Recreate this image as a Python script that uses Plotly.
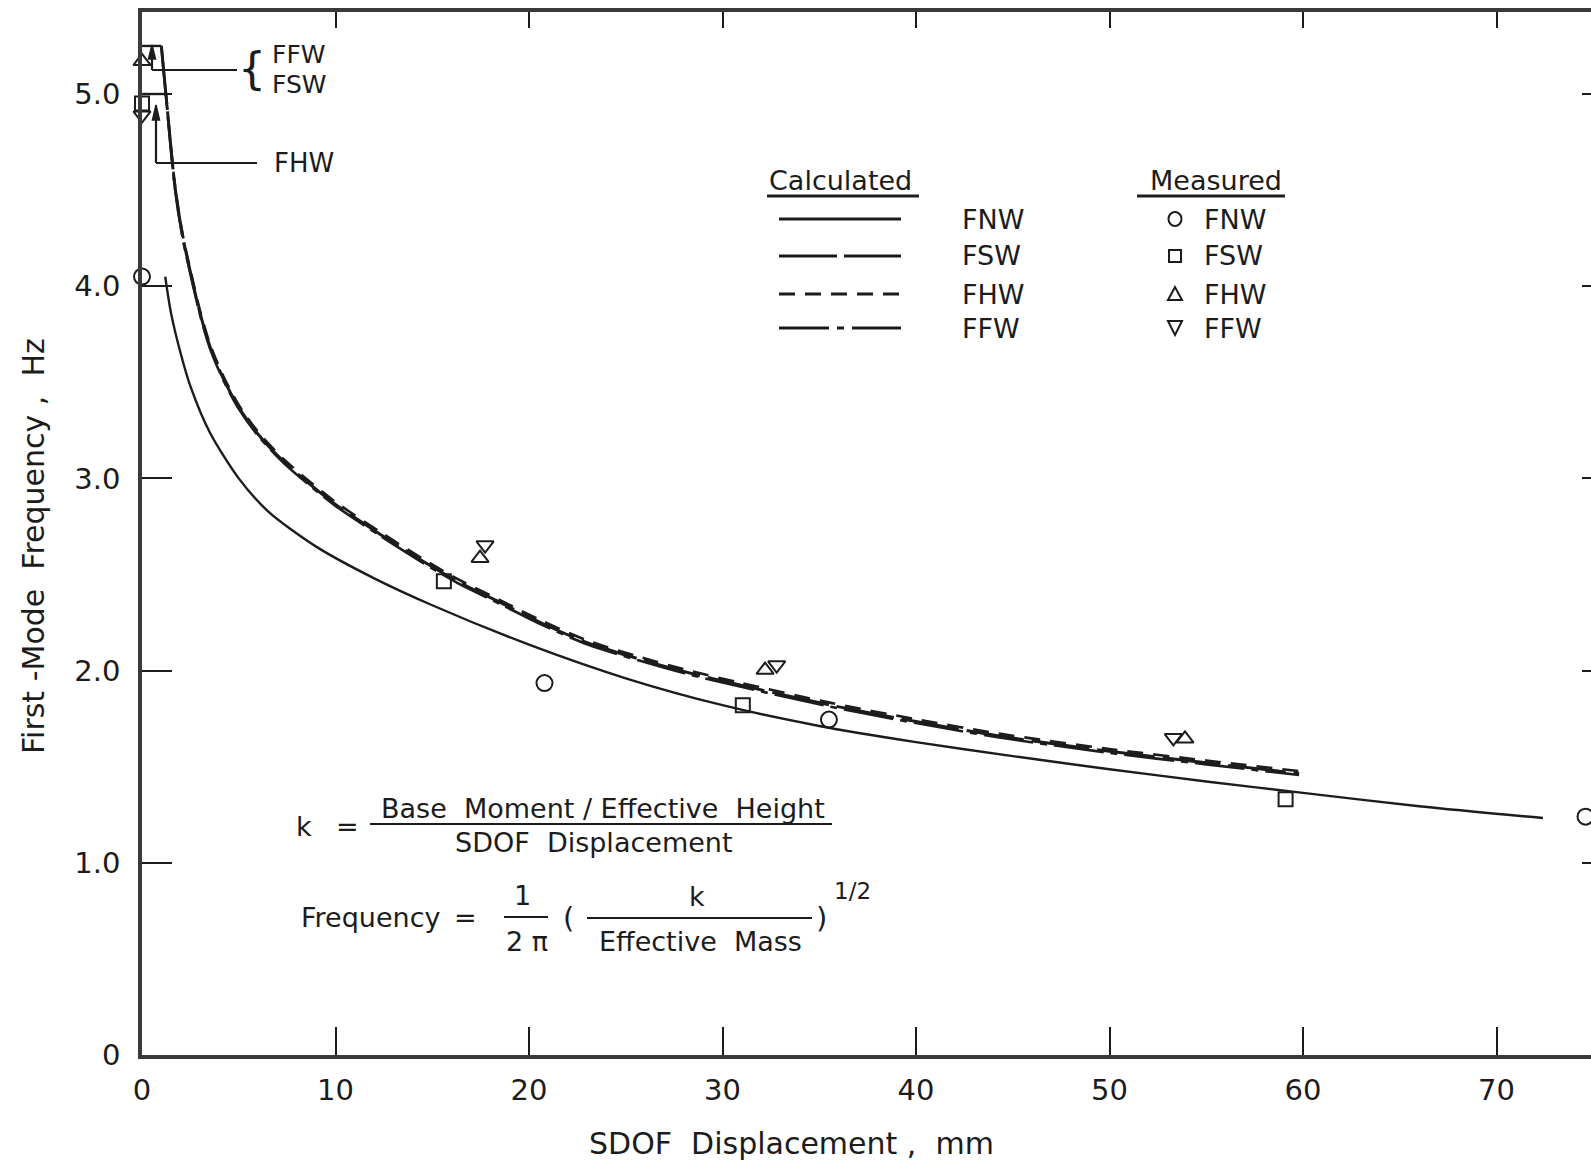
import plotly.graph_objects as go

# ---------------- data ----------------
# Calculated first-mode frequency (Hz) versus SDOF displacement (mm)
fnw_calc_x = [1.2, 1.5, 2.0, 2.5, 3.5, 5.0, 6.5, 9.0, 12.0, 15.0, 20.0, 25.0, 30.0,
              35.0, 40.0, 45.0, 50.0, 55.0, 60.0, 66.0, 72.4]
fnw_calc_y = [4.05, 3.86, 3.65, 3.48, 3.24, 3.00, 2.83, 2.645, 2.48, 2.34, 2.135, 1.96, 1.82,
              1.712, 1.628, 1.555, 1.487, 1.423, 1.364, 1.294, 1.233]

fsw_calc_x = [1.0, 1.3, 1.7, 2.1, 2.6, 3.0, 3.5, 4.2, 5.0, 6.0, 7.3, 8.5, 10.0, 12.3,
              14.5, 16.2, 18.5, 20.7, 23.0, 25.7, 28.0, 30.9, 35.6, 40.0, 44.3, 50.0,
              55.0, 59.8]
fsw_calc_y = [5.25, 4.93, 4.52, 4.26, 4.03, 3.86, 3.69, 3.52, 3.37, 3.23, 3.09, 2.985, 2.865,
              2.71, 2.57, 2.47, 2.355, 2.245, 2.145, 2.06, 1.995, 1.925, 1.82, 1.735, 1.66,
              1.58, 1.52, 1.465]

fhw_calc_x = [1.24, 1.7, 2.1, 2.6, 3.0, 3.5, 4.2, 5.0, 6.0, 7.3, 8.5, 10.0, 12.3,
              14.5, 16.2, 18.5, 20.7, 23.0, 25.7, 28.0, 30.9, 35.6, 40.0, 44.3, 50.0,
              55.0, 59.8]
fhw_calc_y = [5.0, 4.53, 4.27, 4.04, 3.872, 3.702, 3.532, 3.382, 3.242, 3.102, 2.997, 2.877,
              2.722, 2.582, 2.482, 2.367, 2.257, 2.157, 2.072, 2.007, 1.937, 1.832, 1.747,
              1.672, 1.592, 1.532, 1.477]

ffw_calc_x = [1.0, 1.3, 1.7, 2.1, 2.6, 3.0, 3.5, 4.2, 5.0, 6.0, 7.3, 8.5, 10.0, 12.3,
              14.5, 16.2, 18.5, 20.7, 23.0, 25.7, 28.0, 30.9, 35.6, 40.0, 44.3, 50.0,
              55.0, 59.8]
ffw_calc_y = [5.25, 4.92, 4.51, 4.25, 4.02, 3.85, 3.68, 3.512, 3.362, 3.222, 3.082, 2.977,
              2.857, 2.702, 2.562, 2.462, 2.347, 2.237, 2.137, 2.052, 1.987, 1.917, 1.812,
              1.727, 1.652, 1.572, 1.512, 1.457]

# initial (uncracked) frequency plateaus
fsw_plateau_x = [0.0, 1.0]
fsw_plateau_y = [5.25, 5.25]
fhw_plateau_x = [0.05, 1.24]
fhw_plateau_y = [5.0, 5.0]

# Measured first-mode frequency
fnw_meas_x = [0.0, 20.8, 35.5, 74.6]
fnw_meas_y = [4.05, 1.935, 1.745, 1.24]
fsw_meas_x = [0.0, 15.6, 31.05, 59.1]
fsw_meas_y = [4.95, 2.465, 1.82, 1.33]
fhw_meas_x = [0.0, 17.47, 32.2, 53.9]
fhw_meas_y = [5.17, 2.585, 2.003, 1.645]
ffw_meas_x = [0.0, 17.73, 32.8, 53.3]
ffw_meas_y = [4.89, 2.653, 2.029, 1.65]

x_ticks = [0, 10, 20, 30, 40, 50, 60, 70]
x_tick_text = ["0", "10", "20", "30", "40", "50", "60", "70"]
y_ticks = [0, 1, 2, 3, 4, 5]
y_tick_text = ["0", "1.0", "2.0", "3.0", "4.0", "5.0"]

# ---------------- layout geometry ----------------
W, H = 1591, 1162
L, R, T, B = 142, 0, 12, 107
PW = W - L - R
PH = H - T - B
X_PER_MM = 19.35
Y_PER_HZ = 192.2
x_max = PW / X_PER_MM
y_max = PH / Y_PER_HZ

INK = "#1c1c1c"
AXIS = "#3a3a3a"
FONT = "DejaVu Sans"


def px(x):
    return (x - L) / PW


def py(y):
    return (H - B - y) / PH


fig = go.Figure()

# calculated curves
def curve(xs, ys, name, width, dash, shape="spline"):
    fig.add_trace(go.Scatter(x=xs, y=ys, name=name, mode="lines", showlegend=False,
                             hoverinfo="skip", line_shape=shape,
                             line=dict(color=INK, width=width, dash=dash,
                                       smoothing=0.8 if shape == "spline" else None)))


curve(fnw_calc_x, fnw_calc_y, "FNW calculated", 2.4, "solid")
curve(fsw_plateau_x, fsw_plateau_y, "FSW plateau", 2.4, "solid", "linear")
curve(fhw_plateau_x, fhw_plateau_y, "FHW plateau", 2.4, "solid", "linear")
curve(fsw_calc_x, fsw_calc_y, "FSW calculated", 3, "58px,8px")
curve(fhw_calc_x, fhw_calc_y, "FHW calculated", 2.6, "16px,10px")
curve(ffw_calc_x, ffw_calc_y, "FFW calculated", 2.6, "50px,7px,7px,7px")

# measured points
marker_line = dict(color=INK, width=2)
meas = [
    (fnw_meas_x, fnw_meas_y, "circle-open", 16, "FNW measured"),
    (fsw_meas_x, fsw_meas_y, "square-open", 14, "FSW measured"),
    (fhw_meas_x, fhw_meas_y, "triangle-up-open", 15, "FHW measured"),
    (ffw_meas_x, ffw_meas_y, "triangle-down-open", 15, "FFW measured"),
]
for mx, my, sym, size, name in meas:
    fig.add_trace(go.Scatter(x=mx, y=my, mode="markers", name=name, showlegend=False,
                             cliponaxis=False, hoverinfo="skip",
                             marker=dict(symbol=sym, size=size, color=INK,
                                         line=marker_line)))

# helper trace that brings up the top / right tick axes
fig.add_trace(go.Scatter(x=[None], y=[None], xaxis="x2", yaxis="y2",
                         showlegend=False, hoverinfo="skip"))

shapes = []
annotations = []


def hline(x0, x1, y, w=2.2):
    shapes.append(dict(type="line", xref="paper", yref="paper",
                       x0=px(x0), x1=px(x1), y0=py(y), y1=py(y),
                       line=dict(color=INK, width=w)))


def vline(x, y0, y1, w=2.2):
    shapes.append(dict(type="line", xref="paper", yref="paper",
                       x0=px(x), x1=px(x), y0=py(y0), y1=py(y1),
                       line=dict(color=INK, width=w)))


def poly(points, fill=INK, w=1.5):
    d = "M " + " L ".join(f"{px(a):.5f},{py(b):.5f}" for a, b in points) + " Z"
    shapes.append(dict(type="path", xref="paper", yref="paper", path=d,
                       fillcolor=fill, line=dict(color=INK, width=w)))


def text(x, y, s, size=27, xanchor="center", angle=0):
    annotations.append(dict(x=px(x), y=py(y), xref="paper", yref="paper", text=s,
                            showarrow=False, xanchor=xanchor, yanchor="middle",
                            textangle=angle, font=dict(family=FONT, size=size, color=INK)))


NB = "\u00a0"

# leaders for the initial frequencies
vline(152, 58, 70)
hline(152, 237, 70)
poly([(152, 45), (148.5, 59), (155.5, 59)])
vline(156, 120, 163)
hline(156, 257, 163)
poly([(156, 105), (152.5, 120), (159.5, 120)])
text(252, 68, "{", size=44)
text(270, 54, "FFW", size=25, xanchor="left")
text(270, 84, "FSW", size=25, xanchor="left")
text(272, 163, "FHW", size=26, xanchor="left")

# legend block
text(840, 180, "Calculated", size=27)
hline(767, 919, 196, w=3)
text(1216, 180, "Measured", size=27)
hline(1137, 1285, 196, w=3)
legend_rows = [("FNW", 219, "solid"), ("FSW", 256, "58px,7px"),
               ("FHW", 294, "16px,10px"), ("FFW", 328, "50px,8px,7px,8px")]
for label, yy, dash in legend_rows:
    shapes.append(dict(type="line", xref="paper", yref="paper",
                       x0=px(779), x1=px(901), y0=py(yy), y1=py(yy),
                       line=dict(color=INK, width=3, dash=dash)))
    text(960, yy, label, size=27, xanchor="left")
    text(1202, yy, label, size=27, xanchor="left")
# legend symbols
shapes.append(dict(type="circle", xref="paper", yref="paper",
                   x0=px(1168.5), x1=px(1181.5), y0=py(226), y1=py(212),
                   line=dict(color=INK, width=2)))
shapes.append(dict(type="rect", xref="paper", yref="paper",
                   x0=px(1169), x1=px(1181), y0=py(262), y1=py(250),
                   line=dict(color=INK, width=2)))
poly([(1175, 287), (1168, 300), (1182, 300)], fill="rgba(0,0,0,0)", w=2)
poly([(1175, 335), (1168, 321), (1182, 321)], fill="rgba(0,0,0,0)", w=2)

# stiffness / frequency relations
text(304, 826, "k", size=27)
text(347, 826, "=", size=27)
hline(370, 832, 824)
text(603, 808, f"Base{NB}{NB}Moment{NB}/{NB}Effective{NB}{NB}Height", size=27)
text(594, 842, f"SDOF{NB}{NB}Displacement", size=27)
text(299, 917, "Frequency", size=27, xanchor="left")
text(465, 917, "=", size=27)
hline(504, 548, 917)
text(522, 895, "1", size=27)
text(527, 941, f"2{NB}π", size=27)
text(568, 918, "(", size=29)
hline(587, 812, 918)
text(697, 897, "k", size=27)
text(700, 941, f"Effective{NB}{NB}Mass", size=27)
text(821, 918, ")", size=29)
text(852, 891, "1/2", size=23)

# axis titles
text(791, 1143, f"SDOF{NB}{NB}Displacement{NB},{NB}{NB}mm", size=30)
text(33, 546, f"First{NB}-Mode{NB}{NB}Frequency{NB},{NB}{NB}Hz", size=30, angle=-90)

tickfont = dict(family=FONT, size=29, color=INK)
fig.update_layout(
    width=W, height=H,
    margin=dict(l=L, r=R, t=T, b=B, pad=0),
    paper_bgcolor="white", plot_bgcolor="white",
    showlegend=False,
    shapes=shapes, annotations=annotations,
    xaxis=dict(range=[0, x_max], tickvals=x_ticks, ticktext=x_tick_text,
               ticks="inside", ticklen=28, tickwidth=2, tickcolor=INK,
               showline=True, linewidth=3.5, linecolor=AXIS, mirror=True,
               showgrid=False, zeroline=False, tickfont=tickfont,
               ticklabelstandoff=6),
    yaxis=dict(range=[0, y_max], tickvals=y_ticks, ticktext=y_tick_text,
               ticks="inside", ticklen=30, tickwidth=2, tickcolor=INK,
               showline=True, linewidth=3.5, linecolor=AXIS, mirror=False,
               showgrid=False, zeroline=False, tickfont=tickfont,
               ticklabelstandoff=12),
    xaxis2=dict(range=[0, x_max], overlaying="x", side="top", anchor="y2",
                tickvals=x_ticks[1:], ticks="inside", ticklen=16, tickwidth=2,
                tickcolor=INK, showticklabels=False, showline=False,
                showgrid=False, zeroline=False),
    yaxis2=dict(range=[0, y_max], overlaying="y", side="right", anchor="x2",
                tickvals=y_ticks[1:], ticks="inside", ticklen=9, tickwidth=2,
                tickcolor=INK, showticklabels=False, showline=False,
                showgrid=False, zeroline=False),
)

fig.write_html("out.html")
